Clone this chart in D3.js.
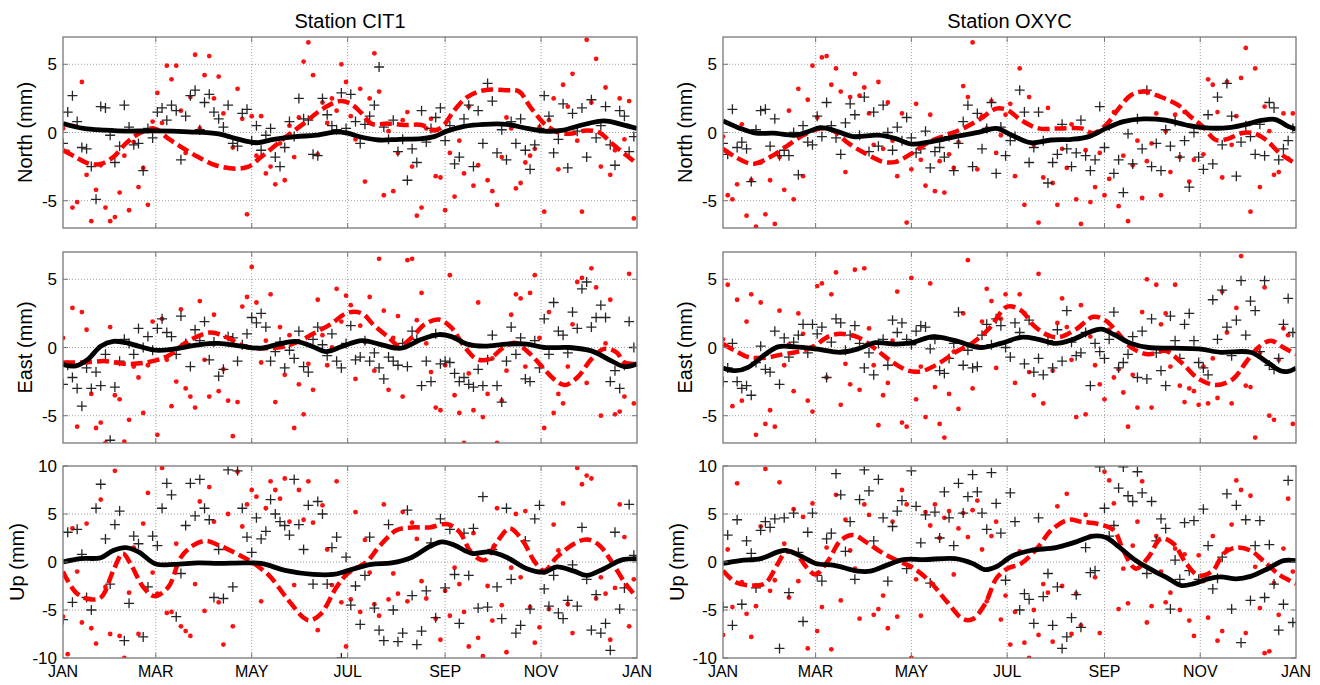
<!DOCTYPE html>
<html>
<head>
<meta charset="utf-8">
<script src="https://cdn.jsdelivr.net/npm/d3@7"></script>
<style>
  body { margin: 0; background: #fff; }
  svg { display: block; font-family: "Liberation Sans", Arial, sans-serif; }
</style>
</head>
<body>
<svg id="chart" width="1320" height="685"></svg>
<script>
// ---- data (mm), scatter sampled every 3 days from Jan 1 ----
var stations = ['CIT1', 'OXYC'];
var components = ['North', 'East', 'Up'];
var monthTicks = [0, 2, 4, 6, 8, 10, 12];
var monthLabels = ['JAN', 'MAR', 'MAY', 'JUL', 'SEP', 'NOV', 'JAN'];
var yTicksHoriz = [-5, 0, 5];
var yTicksUp = [-10, -5, 0, 5, 10];
var sampleStep = 3;

// CIT1 North
var cit1NorthBlackPts = [-0.8, 1.5, 2.7, 0.8, -1.1, -1.2, -2.5, -4.9, 1.9, 1.8,
  -0.2, -2.2, -1.0, 2.0, 0.4, -0.9, -0.8, -2.8, 0.3, -0.4,
  1.5, 1.8, 0.9, 2.0, 1.6, -2.0, 1.2, 2.7, 3.1, 0.2,
  2.2, 2.8, 1.5, 1.0, 0.4, 2.0, -0.8, -1.0, 1.4, 1.7,
  -0.6, 0.5, -1.3, -0.2, 0.3, -1.8, -2.5, -1.1, 0.8, -0.3,
  2.5, 1.0, 0.9, -1.6, -1.7, 2.5, 1.3, 0.5, 0.2, 2.9,
  0.3, 2.8, 0.8, -0.8, 0.6, 1.2, 2.0, 4.8, 0.4, -0.5,
  0.9, -1.4, -0.5, -3.5, -1.2, -2.2, 1.6, -0.7, 0.3, 1.1,
  1.8, -0.6, 0.5, -2.3, -1.8, 1.0, 2.0, -2.5, 1.6, -0.8,
  3.6, 2.3, -1.5, 0.2, -2.0, 0.8, -0.8, 1.0, -1.3, -2.7,
  -0.9, 0.3, 2.7, 1.2, -1.5, -0.5, 2.1, -2.6, 1.4, 0.1,
  1.8, -1.8, 2.4, -0.4, 0.5, 1.9, -0.9, -2.4, 1.6, 1.2, -1.4, -0.3];
var cit1NorthRedPts = [0.3, -1.4, -5.5, -5.1, 3.7, -3.1, -6.5, -4.2, -2.4, -5.5,
  -6.5, -6.2, -4.4, -1.7, -5.7, -0.7, -4.0, -2.6, -5.3, 0.8,
  2.9, 0.7, 4.9, 3.9, 4.9, 1.6, -1.5, 2.6, 5.7, 0.3,
  4.2, 5.6, 2.5, 4.1, 1.4, -0.3, -1.1, 3.2, 1.0, -6.0,
  1.2, -1.7, 1.2, -3.0, -2.5, -3.8, -0.8, -3.5, 0.5, -1.8,
  1.1, 5.2, 6.6, 4.2, -1.6, 2.2, 0.7, 2.5, 1.6, 5.0,
  3.7, 1.2, -0.5, 3.2, -3.6, 2.5, 5.8, 3.0, -4.6, 0.1,
  -4.3, -1.5, 0.9, 1.5, -2.5, -6.1, -5.5, 0.3, 1.0, -3.2,
  -3.3, -5.7, -1.5, -4.7, -0.6, -3.0, 1.9, -3.9, -2.4, 0.6,
  -3.5, -4.3, -5.3, -1.8, 1.1, 0.3, -4.1, -3.7, -2.2, -1.7,
  -1.2, 0.4, -5.8, 0.9, 2.5, -2.7, 3.5, 1.9, 4.3, -0.6,
  -5.8, 6.8, 2.2, 5.4, -2.5, 3.3, -3.1, -1.3, 2.5, -0.5, 2.3, -6.3];
var cit1NorthBlackFit = [[0, 0.66], [13, 0.3], [27, 0.17], [40, 0.1], [59, 0.12], [80, 0.05], [99, -0.1],
  [110, -0.45], [123, -0.75], [134, -0.5], [148, -0.3], [161, -0.2], [174, 0.05], [181, -0.05],
  [190, -0.35], [201, -0.55], [214, -0.5], [228, -0.45], [236, -0.3], [244, 0.1], [255, 0.45],
  [268, 0.6], [282, 0.6], [295, 0.3], [306, 0.1], [317, 0.15], [330, 0.55], [344, 0.85],
  [355, 0.6], [365, 0.3]];
var cit1NorthRedFit = [[0, -1.3], [8, -1.8], [17, -2.3], [24, -2.3], [32, -1.8], [40, -0.8], [48, -0.1],
  [58, 0.3], [67, -0.45], [75, -1.05], [86, -1.8], [97, -2.4], [110, -2.65], [118, -2.5],
  [126, -1.8], [134, -1.05], [142, -0.3], [153, 0.65], [164, 1.65], [176, 2.3], [183, 2.1],
  [190, 1.4], [196, 0.65], [207, 0.65], [217, 0.55], [228, 0.55], [236, 0.15], [241, 0.4],
  [249, 1.65], [257, 2.6], [268, 3.1], [282, 3.1], [290, 3.0], [297, 1.9], [306, 0.65],
  [314, 0.05], [322, -0.1], [333, 0.15], [341, 0.0], [349, -0.8], [357, -1.55], [365, -2.3]];

// CIT1 East
var cit1EastBlackPts = [-2.7, -1.3, -2.2, -3.0, -4.3, -1.5, -3.0, -1.8, -2.8, -0.5,
  -6.8, -2.9, -1.0, 0.6, 0.3, -0.5, 1.4, 0.0, 0.8, -0.2,
  1.4, 2.1, 1.1, 0.8, -0.5, 2.3, 0.3, -1.4, 1.3, 0.5,
  1.9, -0.9, 0.4, -2.1, -1.6, 0.8, 0.7, -1.0, 0.2, 1.0,
  2.2, 1.8, 2.5, 1.5, -1.0, -0.3, 0.4, -1.5, -0.2, -0.8,
  1.2, -1.4, -1.8, 0.6, 1.5, 0.2, -0.6, 1.0, -1.0, -1.5,
  0.3, 1.6, -0.9, -0.7, 0.5, -1.0, -0.4, -1.5, -2.3, -0.7,
  -1.0, -1.3, 0.3, -1.4, 1.2, 0.6, -2.8, -1.0, -2.5, 1.0,
  -1.2, -1.0, -1.1, -1.9, -2.5, -2.2, -2.7, -2.9, -1.6, -2.8,
  -0.9, 0.9, -2.8, -4.0, -1.0, 1.5, -0.5, 0.7, -2.3, -2.5,
  0.5, -1.5, 2.1, -0.5, 3.3, 1.2, 0.9, -0.4, 2.6, 1.4,
  4.3, 4.8, 1.5, 2.2, 3.1, 2.2, -2.5, -1.7, -3.0, -1.3, 1.9, 0.0];
var cit1EastRedPts = [0.7, -1.2, 2.9, -5.8, 2.6, 1.3, -3.4, -5.9, -5.5, -7.0,
  1.5, -3.5, -3.8, -6.9, -5.3, -1.4, -2.2, -4.8, -1.3, 1.9,
  -6.4, 2.1, -0.9, -4.3, -2.5, 2.8, -3.0, -3.6, -4.4, 3.4,
  -0.9, -3.6, 2.4, -3.2, -1.6, -3.9, -6.5, -4.0, 3.0, 3.7,
  5.9, 3.3, -1.1, 0.5, 3.9, -4.0, 1.5, -2.0, 0.9, -5.9,
  -2.7, -4.9, -1.2, -3.1, 3.5, 0.9, -1.3, 0.0, 4.3, 1.9,
  3.8, 3.1, -2.3, 1.6, 0.4, 3.7, -1.7, 6.5, 2.7, -3.1,
  0.7, 2.3, -3.6, 6.4, 6.5, 2.0, 4.0, 0.3, -1.8, -4.4,
  -4.6, -1.3, 5.3, -3.5, -4.8, -7.0, -1.9, -4.6, 3.3, -5.1,
  -3.4, -0.8, -7.0, -3.9, -1.7, 2.4, 3.9, 3.6, -1.4, 4.0,
  5.3, 0.7, -5.9, 2.6, -4.8, -3.4, -4.1, -1.4, 1.7, 4.8,
  5.1, -2.6, 5.8, 4.4, -5.0, 0.3, 3.5, -4.9, -4.7, -3.6, 5.4, -4.1];
var cit1EastBlackFit = [[0, -1.25], [8, -1.35], [16, -0.85], [24, 0.1], [32, 0.45], [40, 0.35], [48, 0.1],
  [59, -0.2], [71, -0.1], [86, 0.2], [99, 0.3], [113, 0.1], [126, -0.05], [137, 0.25],
  [148, 0.45], [159, 0.05], [167, -0.3], [178, 0.1], [190, 0.5], [201, 0.25], [212, -0.05],
  [217, 0.0], [228, 0.6], [239, 0.95], [247, 0.8], [257, 0.25], [268, 0.1], [282, 0.25],
  [295, 0.25], [306, 0.0], [322, 0.0], [336, -0.25], [349, -1.0], [357, -1.4], [365, -1.2]];
var cit1EastRedFit = [[0, -1.1], [13, -1.1], [27, -1.0], [40, -1.2], [53, -1.1], [67, -0.6], [80, 0.5],
  [94, 1.1], [104, 0.75], [115, 0.1], [126, -0.05], [137, 0.0], [148, 0.35], [159, 1.0],
  [170, 1.7], [181, 2.55], [190, 2.5], [198, 1.6], [207, 0.75], [214, 0.1], [222, 0.75],
  [230, 1.7], [239, 2.05], [247, 1.45], [255, 0.1], [263, -0.85], [271, -0.85], [279, -0.1],
  [287, 0.35], [295, -0.25], [303, -1.2], [312, -2.3], [319, -2.75], [327, -2.2], [336, -0.85],
  [344, -0.1], [352, -0.35], [357, -1.1], [365, -1.2]];

// CIT1 Up
var cit1UpBlackPts = [-6.0, 3.1, -4.2, 3.4, 0.8, -3.7, -5.0, 5.6, 8.1, 2.4,
  -2.3, 3.9, 5.3, -8.2, -4.3, 2.7, 1.9, -7.8, -2.6, 2.7,
  1.7, 5.6, 8.2, 7.0, -5.7, -1.2, 3.8, 8.2, 4.8, 8.6,
  5.6, 4.4, -3.7, 1.3, -3.8, 9.6, -2.6, 9.5, 5.6, 2.6,
  1.0, 4.6, 2.4, 3.2, 6.5, 5.0, 4.2, 3.8, 2.8, 8.6,
  3.9, 1.3, 5.9, -2.3, 6.3, 5.0, -2.3, 1.5, 2.6, -10.0,
  0.5, -4.5, -2.5, -6.5, -1.4, 2.6, -4.8, -7.1, -8.2, 3.9,
  -5.0, -8.3, -7.4, 5.4, -3.5, -8.6, -7.2, -3.0, 2.0, -5.8,
  4.5, -2.7, 3.4, -1.3, -6.4, 3.0, -1.4, 3.5, -4.8, 6.8,
  -4.7, 1.3, -2.6, -5.9, 5.6, -1.8, -7.4, -6.6, 2.2, -4.9,
  4.5, 5.9, -2.8, -4.6, -1.4, -5.3, -5.9, -4.0, -0.3, -4.6,
  3.6, -1.8, -7.1, -3.4, -7.4, -6.4, -9.2, 3.1, -4.9, -2.7, 6.0, 0.7];
var cit1UpRedPts = [-5.7, -9.6, 3.5, -1.0, -6.3, 4.0, -6.9, -8.5, 6.5, -2.6,
  -7.5, 9.5, -7.7, -10.0, -3.2, 1.5, -7.5, 4.0, 7.2, -1.1,
  -3.3, 9.8, -5.3, -5.2, 1.9, -6.7, -7.2, -7.7, -2.3, 6.3,
  -5.1, 7.8, 4.2, -4.2, -8.6, 5.0, -6.7, 9.4, 3.7, 6.0,
  7.5, 6.8, -4.1, 5.6, 8.4, 7.5, 6.6, 8.7, 4.2, -2.4,
  7.5, 4.4, 8.4, 4.1, -7.1, 5.9, 1.3, -2.4, 8.4, -4.2,
  -8.8, -3.9, 5.2, -5.2, 2.3, -1.1, -4.4, -5.6, 6.0, -3.9,
  -1.2, -3.3, 5.2, -4.1, 4.1, 2.4, -2.0, -3.8, 1.8, -5.9,
  -8.1, -3.0, -5.6, -0.6, -2.3, -5.2, -8.8, 3.0, -7.9, -9.8,
  -2.5, -6.1, 5.6, -4.5, -9.4, -0.6, 5.0, -1.6, 5.3, -4.7,
  -8.4, -6.8, -1.1, -4.9, 3.9, 1.2, 6.1, -4.4, -7.4, 9.8,
  8.1, 9.0, 8.7, -3.8, -1.6, -3.3, -8.1, -2.7, 6.0, 2.6, -6.7, -1.8];
var cit1UpBlackFit = [[0, 0.0], [11, 0.35], [24, 0.45], [32, 1.2], [40, 1.5], [48, 1.05], [59, -0.2],
  [71, -0.25], [86, -0.1], [99, -0.15], [115, -0.1], [126, -0.15], [142, -0.9], [159, -1.3],
  [172, -1.3], [181, -0.9], [196, -0.25], [209, -0.1], [222, 0.5], [233, 1.6], [241, 2.1],
  [249, 1.75], [260, 0.9], [271, 1.05], [282, 0.5], [295, -0.7], [306, -1.05], [314, -0.5],
  [325, -0.95], [333, -1.4], [344, -0.7], [355, 0.2], [365, 0.35]];
var cit1UpRedFit = [[0, -1.0], [8, -3.15], [16, -3.85], [24, -3.7], [32, -0.9], [38, 0.9], [43, -0.2],
  [51, -2.6], [58, -3.55], [67, -2.6], [75, 0.5], [83, 1.75], [91, 2.2], [99, 1.75], [110, 0.9],
  [120, 0.0], [131, -1.4], [142, -3.7], [153, -5.8], [157, -6.1], [164, -5.4], [174, -2.6],
  [181, -1.2], [193, 0.0], [201, 1.6], [212, 3.3], [222, 3.6], [233, 3.6], [244, 3.95],
  [252, 3.15], [260, 0.9], [268, 0.2], [276, 2.1], [284, 3.5], [292, 2.3], [300, 0.0],
  [306, -0.9], [314, 0.5], [325, 1.9], [333, 2.35], [341, 1.75], [349, 0.0], [357, -2.1], [365, -3.7]];

// OXYC North
var oxycNorthBlackPts = [-0.8, -1.6, 1.7, -1.1, -0.7, -1.2, -3.6, 0.2, 1.6, 1.7,
  -1.0, 1.0, -1.7, -1.3, -1.7, 0.0, -3.1, 0.5, -0.7, -0.9,
  1.2, -0.3, 2.2, 0.5, -0.4, -1.6, 0.7, 2.1, 1.3, -0.2,
  2.6, -1.4, 1.5, -1.0, 2.0, 0.0, -1.3, 0.4, -0.6, 1.1,
  -0.4, -1.5, -1.2, 0.1, -2.6, -1.4, -1.1, -1.8, -0.3, -2.8,
  -0.8, 0.8, 2.0, -2.5, 1.4, -1.2, 0.3, 2.2, -3.0, 0.4,
  -1.7, -0.6, -0.3, 3.1, 1.5, -2.2, -1.1, 1.5, -0.6, -3.7,
  -2.2, -1.6, 0.6, -1.2, -2.5, -1.5, 0.9, -1.7, -2.8, -2.0,
  1.9, -1.1, 0.5, -3.0, -2.0, -4.4, -0.1, -2.3, 1.0, -1.2,
  3.1, -2.5, -0.8, -2.8, 0.2, -1.0, 0.8, -1.8, -0.6, -4.0,
  0.0, -1.8, -2.7, 1.3, -2.3, 2.6, -0.9, 3.6, 1.2, -3.2,
  -0.7, 0.5, -0.3, -1.6, 0.6, -1.7, 2.2, 1.8, -2.0, -1.2, -0.6, 0.3];
var oxycNorthRedPts = [-0.3, -4.6, -4.9, -3.8, 0.6, -6.1, -3.5, -6.9, -2.2, -6.0,
  -3.5, -6.7, -1.8, -4.2, 1.6, -4.9, 3.2, -3.2, 2.4, 4.9,
  1.1, 5.5, 5.6, 3.5, 4.7, 3.0, -2.9, 2.6, 4.3, 2.7,
  3.3, 1.4, -0.9, 3.7, -1.2, 2.2, -0.6, -3.2, 1.4, -6.6,
  -2.7, 2.1, -2.0, -3.9, 1.3, -4.3, -2.1, -4.4, -1.6, -2.6,
  -0.7, 3.4, 2.6, 6.6, -2.7, 1.2, 0.3, 2.3, -1.5, -0.2,
  1.3, 2.1, -3.2, 4.7, -5.3, 2.6, -0.9, -6.6, -3.3, 1.8,
  -3.7, -5.3, -1.2, -2.6, 0.6, -4.9, -6.7, -1.3, -5.1, -4.0,
  -1.5, -4.6, -3.4, 1.5, -5.4, -1.7, -6.5, -2.4, -0.6, -4.8,
  -2.1, -0.8, 1.4, -4.6, 0.1, -2.9, 1.3, -1.8, 1.5, -3.6,
  -2.0, 0.5, -1.6, 3.9, 3.5, 1.5, -3.3, 3.7, -0.9, 1.2,
  4.0, 6.2, -5.8, 4.7, -4.0, 1.9, 0.1, -3.1, -2.9, 1.4, -1.9, 1.4];
var oxycNorthBlackFit = [[0, 0.85], [11, 0.3], [21, -0.05], [32, -0.05], [46, -0.2], [54, 0.05], [62, 0.35],
  [71, 0.15], [83, -0.3], [99, -0.2], [110, -0.45], [120, -0.85], [131, -0.7], [148, -0.3],
  [164, 0.05], [174, 0.3], [184, -0.2], [196, -0.75], [209, -0.55], [222, -0.5], [233, -0.3],
  [244, 0.3], [255, 0.8], [268, 1.0], [282, 0.9], [295, 0.55], [306, 0.35], [322, 0.35],
  [333, 0.6], [344, 0.9], [352, 0.95], [360, 0.45], [365, 0.25]];
var oxycNorthRedFit = [[0, -1.2], [8, -1.8], [19, -2.3], [30, -1.8], [40, -1.05], [51, -0.2], [62, 0.3],
  [70, 0.15], [80, -0.8], [91, -1.55], [102, -2.15], [110, -2.15], [120, -1.55], [131, -0.7],
  [142, -0.2], [153, 0.3], [164, 1.0], [174, 1.75], [181, 1.65], [190, 0.9], [201, 0.3],
  [214, 0.3], [228, 0.3], [236, -0.05], [244, 0.55], [252, 1.75], [260, 2.75], [268, 3.0],
  [279, 2.6], [290, 2.0], [297, 1.25], [306, 0.4], [314, -0.55], [322, -0.45], [330, -0.05],
  [338, -0.05], [346, -0.55], [355, -1.55], [365, -2.3]];

// OXYC East
var oxycEastBlackPts = [-2.5, -1.5, 0.3, -2.5, -3.0, -2.8, -3.5, -1.1, 0.1, -1.6,
  -1.8, 1.2, -2.7, 0.7, -0.7, 0.4, 0.9, 1.7, -0.4, 1.7,
  1.0, 1.5, -2.2, 0.4, 2.1, 1.8, -0.2, 0.9, 1.6, 0.3,
  -1.5, -0.4, -2.0, 0.3, 0.6, -1.3, 2.0, 1.1, 1.8, 0.6,
  0.2, 1.2, 1.6, 1.5, -0.1, 0.6, -1.7, -1.9, -0.8, 0.3,
  2.6, -1.3, -0.2, -1.5, -1.4, 0.9, 1.7, 0.2, 2.1, 1.6,
  0.0, -0.7, 1.8, 1.1, -1.2, 2.0, -1.8, -0.8, -2.0, 0.5,
  -1.5, 1.3, -1.0, 2.7, 0.4, -0.6, -0.4, 1.1, -2.8, 0.3,
  -0.3, -0.8, 0.6, 2.6, -1.5, -1.1, -0.5, 0.8, -2.2, 1.2,
  -2.3, 2.1, -0.4, -1.7, -2.8, 2.3, 0.5, -0.8, 1.7, 2.5,
  0.5, -1.1, -1.5, -2.0, 3.5, 0.6, 4.2, 1.5, -0.6, 2.0,
  4.9, 0.9, 3.4, 2.7, -0.3, 4.9, -1.3, -1.6, -0.8, 1.7, 3.6, 1.1];
var oxycEastRedPts = [0.6, 4.6, -4.3, 3.5, -3.9, 1.9, 3.9, -6.4, 3.3, -5.6,
  -4.6, -5.8, 2.7, -1.3, 0.2, -3.2, 2.5, 1.0, -3.9, -4.7,
  4.5, 4.7, -2.2, 3.9, 5.5, -4.2, -1.2, -2.7, 5.7, -3.1,
  5.8, 1.4, -1.3, -5.7, -3.5, -2.6, 0.5, 4.1, -5.5, -5.8,
  5.1, -3.8, -1.4, -5.1, 4.7, -2.9, -5.6, -6.6, -3.4, -0.3,
  -4.5, 2.5, 6.4, -3.0, 0.1, 1.9, 4.3, 3.4, -1.5, 2.1,
  3.9, 0.5, -2.6, 3.9, 2.5, -1.8, -3.5, 5.4, -4.1, 0.9,
  -1.7, 1.8, 3.6, 1.5, -0.9, -5.1, 3.1, -4.9, 0.8, -1.3,
  -2.7, -3.8, 1.3, -2.2, -1.6, -3.3, -5.8, -2.0, -4.4, 2.6,
  5.0, -4.4, 4.6, 1.7, 2.5, -1.4, 4.6, -2.8, -4.0, -3.0,
  -3.2, -4.2, -1.4, -4.1, -0.8, -3.7, 4.1, 1.1, -4.1, 2.9,
  6.7, -2.8, -2.9, -6.6, -0.4, 4.4, -5.0, -5.3, -0.9, 1.4, 0.9, -5.6];
var oxycEastBlackFit = [[0, -1.5], [8, -1.7], [16, -1.45], [27, -0.5], [35, 0.05], [46, 0.05], [59, -0.1],
  [75, -0.35], [86, -0.1], [97, 0.35], [110, 0.25], [120, 0.35], [134, 0.8], [148, 0.5],
  [164, 0.0], [177, 0.3], [190, 0.75], [201, 0.6], [212, 0.3], [222, 0.55], [233, 1.1],
  [241, 1.35], [249, 0.95], [260, 0.3], [271, 0.0], [287, -0.05], [303, -0.1], [317, -0.35],
  [336, -0.35], [347, -1.1], [355, -1.7], [360, -1.75], [365, -1.5]];
var oxycEastRedFit = [[0, 0.25], [8, -0.25], [16, -0.7], [27, -0.75], [38, -0.5], [48, -0.3], [58, 0.1],
  [67, 0.8], [75, 1.0], [86, 0.75], [97, -0.1], [107, -1.0], [118, -1.7], [126, -1.75],
  [137, -1.2], [148, -0.35], [159, 0.35], [170, 1.45], [181, 3.0], [190, 2.7], [198, 1.6],
  [207, 0.9], [214, 0.75], [225, 1.35], [236, 2.25], [244, 1.95], [252, 1.0], [260, 0.0],
  [271, -0.5], [282, -0.25], [292, -1.1], [303, -2.3], [314, -2.75], [325, -2.3], [333, -1.1],
  [341, 0.0], [349, 0.5], [357, 0.0], [365, -0.5]];

// OXYC Up
var oxycUpBlackPts = [-4.7, 2.8, -6.6, 4.4, -4.4, 2.2, 0.9, -2.7, 3.3, 4.2,
  3.6, 4.5, -9.0, 4.6, -3.2, 5.1, 1.0, -6.2, 3.1, 5.1,
  -1.4, -2.0, 2.4, 3.0, 9.2, 7.0, 1.1, 4.2, -1.8, 6.5,
  9.6, 7.4, 2.2, 8.6, 4.6, -2.0, 3.7, 5.3, 6.4, -0.7,
  9.5, 5.8, 2.0, 4.9, -2.2, 5.2, 2.5, 7.3, 4.6, 1.7,
  8.2, 5.1, 6.8, 9.1, 7.3, 5.1, 3.4, 9.3, 6.1, 3.0,
  -1.9, 7.2, 4.2, -5.0, -3.3, -3.9, -6.4, 4.6, -3.6, -1.2,
  -6.6, -2.6, -9.0, -7.8, -5.8, -3.4, -6.8, 1.5, -1.1, -0.9,
  9.9, 5.6, 2.7, 3.8, 7.7, 9.9, 6.9, 6.3, 9.4, 7.2,
  -1.2, 6.3, 2.2, 4.5, 3.5, -4.9, 0.2, -1.8, 4.1, -0.9,
  4.3, -1.8, 5.5, 1.7, -2.8, -1.7, 0.5, 7.1, -4.9, 5.9,
  -8.4, 4.4, -4.0, 1.7, 4.3, -3.7, 1.8, -2.3, -7.1, -4.4, 8.5, -6.3];
var oxycUpRedPts = [-7.6, 1.3, -4.7, 8.2, -2.1, -5.4, -7.8, -4.6, 3.7, 9.7,
  -3.0, -1.9, 8.3, 1.9, -3.7, 5.5, -2.0, 4.7, -9.0, 6.1,
  -7.2, -4.7, 1.5, -9.1, 7.0, -4.0, 4.4, 1.2, -0.7, -5.9,
  6.0, 4.9, -5.5, -4.9, -3.5, -6.9, 4.2, -5.7, 7.5, 6.0,
  -10.0, -1.8, -5.6, 5.2, 3.8, 6.0, 2.5, 4.6, 5.3, -1.3,
  3.5, 5.1, 2.6, 5.4, 6.4, 1.3, -4.1, 2.7, 4.2, -6.0,
  -3.5, -8.6, -5.2, 1.1, -8.4, -10.0, -5.0, -7.6, -2.3, -3.2,
  -8.3, 5.8, -2.5, 7.1, -7.5, -3.3, -6.6, 4.9, 2.7, -1.6,
  -7.4, 9.4, 8.5, 6.1, -4.9, -0.7, -4.3, 1.7, 4.2, 8.4,
  -6.3, -4.6, 2.7, -1.0, -4.2, -3.2, 1.4, -5.0, 0.8, -6.1,
  -7.7, 0.7, -2.0, -5.8, 2.7, -8.2, -7.2, 1.3, 3.9, 8.5,
  7.5, -7.4, 6.9, -0.5, -4.8, -9.5, -9.3, -2.2, -5.5, 1.4, 6.6, -1.0];
var oxycUpBlackFit = [[0, -0.15], [11, 0.15], [24, 0.35], [35, 1.05], [40, 1.2], [51, 0.5], [59, -0.15],
  [71, -0.35], [86, -0.95], [94, -0.95], [104, -0.35], [115, 0.25], [128, 0.25], [148, 0.35],
  [159, -0.15], [167, -0.8], [174, -0.5], [184, 0.6], [196, 1.2], [212, 1.5], [225, 2.1],
  [236, 2.7], [244, 2.55], [252, 1.6], [263, 0.15], [274, -0.9], [284, -1.75], [292, -2.45],
  [300, -2.25], [309, -1.75], [317, -1.55], [327, -1.75], [336, -1.5], [347, -0.7],
  [357, 0.15], [365, 0.15]];
var oxycUpRedFit = [[0, -0.9], [8, -2.1], [19, -2.45], [27, -2.2], [35, -0.15], [40, 1.05], [46, 0.9],
  [54, -0.7], [59, -1.3], [67, 0.15], [75, 2.25], [83, 2.8], [91, 2.1], [102, 0.9], [113, 0.0],
  [120, -0.5], [131, -1.9], [142, -4.0], [153, -5.95], [159, -5.95], [167, -4.35], [174, -1.75],
  [181, -0.7], [190, -0.15], [201, 1.6], [209, 3.3], [220, 4.4], [228, 4.2], [239, 3.95],
  [249, 3.3], [255, 1.2], [263, -0.7], [271, 0.5], [279, 2.45], [287, 1.9], [295, -0.15],
  [303, -1.4], [312, -0.9], [319, 0.9], [327, 1.5], [336, 1.2], [344, 0.15], [355, -1.4], [365, -2.25]];

// ---- layout ----
var colX = [[63, 637], [723, 1296]];
var rowY = [[37, 228], [252, 443], [466, 658]];
var yDomains = [[-7, 7], [-7, 7], [-10, 10]];
var yTickSets = [yTicksHoriz, yTicksHoriz, yTicksUp];
var labelOffset = [38, 38, 46];

var panels = [
  { col: 0, row: 0, black: cit1NorthBlackPts, red: cit1NorthRedPts, blackFit: cit1NorthBlackFit, redFit: cit1NorthRedFit },
  { col: 0, row: 1, black: cit1EastBlackPts, red: cit1EastRedPts, blackFit: cit1EastBlackFit, redFit: cit1EastRedFit },
  { col: 0, row: 2, black: cit1UpBlackPts, red: cit1UpRedPts, blackFit: cit1UpBlackFit, redFit: cit1UpRedFit },
  { col: 1, row: 0, black: oxycNorthBlackPts, red: oxycNorthRedPts, blackFit: oxycNorthBlackFit, redFit: oxycNorthRedFit },
  { col: 1, row: 1, black: oxycEastBlackPts, red: oxycEastRedPts, blackFit: oxycEastBlackFit, redFit: oxycEastRedFit },
  { col: 1, row: 2, black: oxycUpBlackPts, red: oxycUpRedPts, blackFit: oxycUpBlackFit, redFit: oxycUpRedFit }
];

var year0 = new Date(2011, 0, 1);
function dayDate(d) { return d3.timeDay.offset(year0, d); }

var svg = d3.select('#chart');

stations.forEach(function (s, c) {
  svg.append('text')
    .attr('x', (colX[c][0] + colX[c][1]) / 2)
    .attr('y', 28)
    .attr('text-anchor', 'middle')
    .style('font-size', '20px')
    .text('Station ' + s);
});

panels.forEach(function (p, idx) {
  var x0 = colX[p.col][0], x1 = colX[p.col][1];
  var y0 = rowY[p.row][0], y1 = rowY[p.row][1];

  var xScale = d3.scaleTime()
    .domain([year0, new Date(2012, 0, 1)])
    .range([x0, x1]);
  var yScale = d3.scaleLinear()
    .domain(yDomains[p.row])
    .range([y1, y0]);

  var monthDates = monthTicks.map(function (m) { return new Date(2011, m, 1); });
  var yTicks = yTickSets[p.row];

  var g = svg.append('g');
  var clipId = 'clip' + idx;
  svg.append('clipPath').attr('id', clipId)
    .append('rect')
    .attr('x', x0).attr('y', y0)
    .attr('width', x1 - x0).attr('height', y1 - y0);

  // grid
  g.selectAll('.gx')
    .data(monthDates.slice(1, -1))
    .enter().append('line')
    .attr('x1', function (d) { return xScale(d); })
    .attr('x2', function (d) { return xScale(d); })
    .attr('y1', y0).attr('y2', y1)
    .attr('stroke', '#a0a0a0').attr('stroke-width', 1)
    .attr('stroke-dasharray', '1,2');
  g.selectAll('.gy')
    .data(yTicks.filter(function (t) { return t > yDomains[p.row][0] && t < yDomains[p.row][1]; }))
    .enter().append('line')
    .attr('x1', x0).attr('x2', x1)
    .attr('y1', function (d) { return yScale(d); })
    .attr('y2', function (d) { return yScale(d); })
    .attr('stroke', '#a0a0a0').attr('stroke-width', 1)
    .attr('stroke-dasharray', '1,2');

  var plot = g.append('g').attr('clip-path', 'url(#' + clipId + ')');

  // red scatter
  plot.selectAll('.dot')
    .data(p.red)
    .enter().append('circle')
    .attr('cx', function (d, i) { return xScale(dayDate(i * sampleStep)); })
    .attr('cy', function (d) { return yScale(d); })
    .attr('r', 2.4)
    .attr('fill', '#ff1010');

  // black pluses
  plot.selectAll('.plus')
    .data(p.black)
    .enter().append('path')
    .attr('transform', function (d, i) {
      return 'translate(' + xScale(dayDate(i * sampleStep)) + ',' + yScale(d) + ')';
    })
    .attr('d', 'M-5,0H5M0,-5V5')
    .attr('stroke', '#262626')
    .attr('stroke-width', 1.3)
    .attr('fill', 'none');

  var line = d3.line()
    .x(function (d) { return xScale(dayDate(d[0])); })
    .y(function (d) { return yScale(d[1]); })
    .curve(d3.curveCatmullRom.alpha(0.5));

  plot.append('path')
    .datum(p.redFit)
    .attr('d', line)
    .attr('fill', 'none')
    .attr('stroke', '#ff0000')
    .attr('stroke-width', 4.5)
    .attr('stroke-dasharray', '12,5');

  plot.append('path')
    .datum(p.blackFit)
    .attr('d', line)
    .attr('fill', 'none')
    .attr('stroke', '#000')
    .attr('stroke-width', 4.8);

  // box
  g.append('rect')
    .attr('x', x0).attr('y', y0)
    .attr('width', x1 - x0).attr('height', y1 - y0)
    .attr('fill', 'none')
    .attr('stroke', '#777')
    .attr('stroke-width', 1.3);

  // inward ticks on all sides
  monthDates.slice(1, -1).forEach(function (d) {
    var xx = xScale(d);
    g.append('line').attr('x1', xx).attr('x2', xx).attr('y1', y1).attr('y2', y1 - 5)
      .attr('stroke', '#777');
    g.append('line').attr('x1', xx).attr('x2', xx).attr('y1', y0).attr('y2', y0 + 5)
      .attr('stroke', '#777');
  });
  yTicks.forEach(function (t) {
    var yy = yScale(t);
    g.append('line').attr('x1', x0).attr('x2', x0 + 5).attr('y1', yy).attr('y2', yy)
      .attr('stroke', '#777');
    g.append('line').attr('x1', x1).attr('x2', x1 - 5).attr('y1', yy).attr('y2', yy)
      .attr('stroke', '#777');
  });

  // y tick labels
  g.selectAll('.yl')
    .data(yTicks)
    .enter().append('text')
    .attr('x', x0 - 6)
    .attr('y', function (d) { return yScale(d); })
    .attr('dy', '0.36em')
    .attr('text-anchor', 'end')
    .style('font-size', '17px')
    .text(function (d) { return d < 0 ? '-' + Math.abs(d) : d; });

  // y axis title
  var cy = (y0 + y1) / 2;
  var cx = x0 - labelOffset[p.row];
  g.append('text')
    .attr('transform', 'translate(' + cx + ',' + cy + ') rotate(-90)')
    .attr('text-anchor', 'middle')
    .attr('dy', '0.35em')
    .style('font-size', '20px')
    .text(components[p.row] + ' (mm)');

  // x tick labels on the bottom row
  if (p.row === 2) {
    g.selectAll('.xl')
      .data(monthDates)
      .enter().append('text')
      .attr('x', function (d) { return xScale(d); })
      .attr('y', y1 + 19)
      .attr('text-anchor', 'middle')
      .style('font-size', '16px')
      .text(function (d, i) { return monthLabels[i]; });
  }
});
</script>
</body>
</html>
